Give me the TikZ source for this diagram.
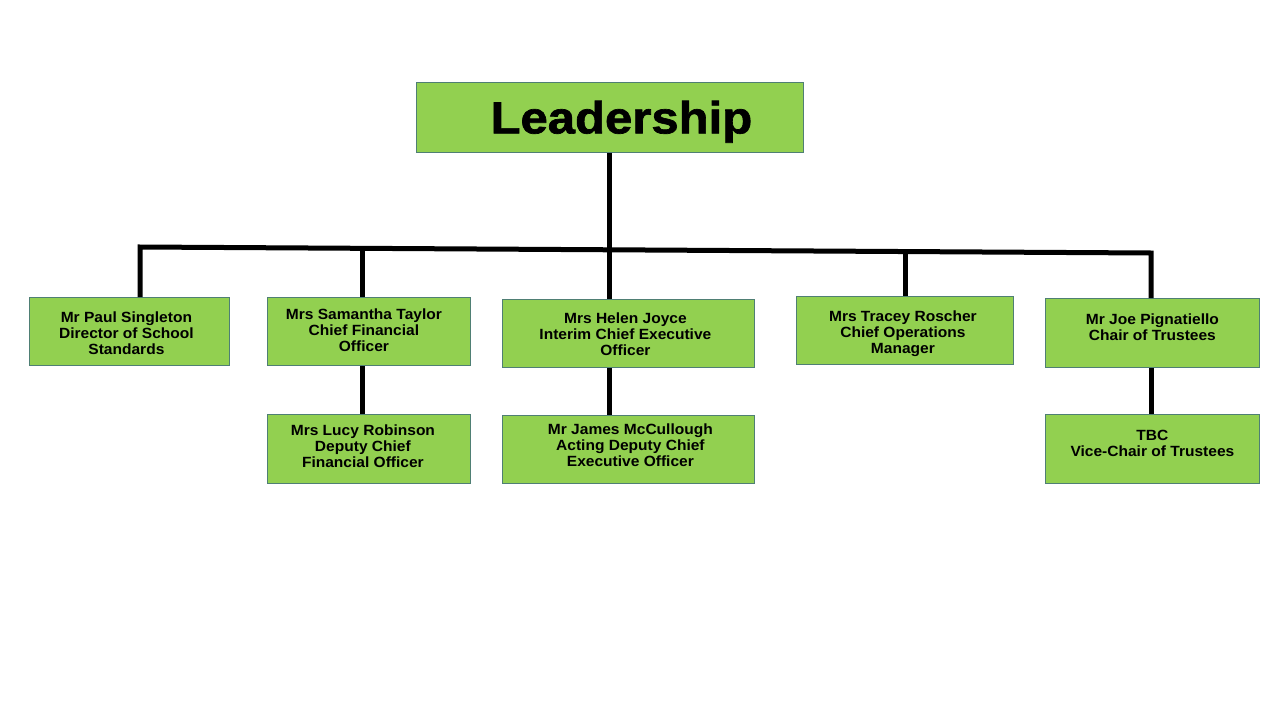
\documentclass[tikz,border=0pt]{standalone}
\usepackage{fontspec}
\setmainfont[FakeStretch=1.05]{Liberation Sans}
\newfontfamily\titlefont[FakeStretch=1.09,FakeBold=1.5]{Liberation Sans}
\definecolor{boxgreen}{HTML}{92D050}
\definecolor{boxedge}{HTML}{4F7F74}
\newcommand\boxtext[3]{\makebox[0pt]{\kern#2\kern#2\raisebox{#1}{\begin{tabular}[t]{@{}c@{}}#3\end{tabular}}}}
\tikzset{
  box/.style={draw=boxedge, line width=0.8pt, fill=boxgreen, inner sep=0pt,
    text height=0pt, text depth=0pt,
    anchor=north west, font=\fontsize{14.8}{16}\selectfont\bfseries},
  conn/.style={draw=black, line width=5pt, line join=miter}
}
\begin{document}
\begin{tikzpicture}[x=1pt,y=-1pt]
\path[use as bounding box, fill=white] (0,0) rectangle (1280,720);

\node[box, minimum width=387, minimum height=70, font=\titlefont\fontsize{45}{50}\selectfont\bfseries] (lead) at (416,82) {\raisebox{-16pt}{\hspace*{23pt}Leadership}};

\node[box, minimum width=200, minimum height=68] (paul) at (29,297) {\boxtext{9pt}{-3pt}{Mr Paul Singleton\\Director of School\\Standards}};
\node[box, minimum width=203, minimum height=68] (sam) at (267,297) {\boxtext{12pt}{-5pt}{Mrs Samantha Taylor\\Chief Financial\\Officer}};
\node[box, minimum width=252, minimum height=68] (helen) at (502,299) {\boxtext{10pt}{-3pt}{Mrs Helen Joyce\\Interim Chief Executive\\Officer}};
\node[box, minimum width=217, minimum height=68] (tracey) at (796,296) {\boxtext{9pt}{-2pt}{Mrs Tracey Roscher\\Chief Operations\\Manager}};
\node[box, minimum width=214, minimum height=69] (joe) at (1045,298) {\boxtext{8.5pt}{0pt}{Mr Joe Pignatiello\\Chair of Trustees}};
\node[box, minimum width=203, minimum height=69] (lucy) at (267,414) {\boxtext{13.5pt}{-6pt}{Mrs Lucy Robinson\\Deputy Chief\\Financial Officer}};
\node[box, minimum width=252, minimum height=68] (james) at (502,415) {\boxtext{15pt}{2pt}{Mr James McCullough\\Acting Deputy Chief\\Executive Officer}};
\node[box, minimum width=214, minimum height=69] (tbc) at (1045,414) {\boxtext{8.5pt}{0pt}{TBC\\Vice-Chair of Trustees}};

\coordinate (j1) at (140,247);
\coordinate (j2) at (362,248);
\coordinate (j3) at (609,250);
\coordinate (j4) at (905,252);
\coordinate (j5) at (1151,253);

\draw[conn] (j1 |- paul.north) -- (j1) -- (j5) -- (j5 |- joe.north);
\draw[conn] (lead.south -| j3) -- (j3 |- helen.north);
\draw[conn] (j2) -- (j2 |- sam.north);
\draw[conn] (j4) -- (j4 |- tracey.north);
\draw[conn] (sam.south -| j2) -- (j2 |- lucy.north);
\draw[conn] (helen.south -| j3) -- (j3 |- james.north);
\draw[conn] (joe.south -| j5) -- (j5 |- tbc.north);
\end{tikzpicture}
\end{document}
